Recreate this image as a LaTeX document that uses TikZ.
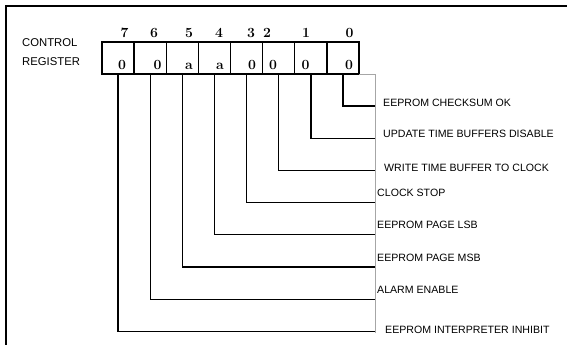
\documentclass[tikz,border=0pt]{standalone}
\usepackage{fontspec}
\newfontfamily\arialf{Liberation Sans}
\begin{document}
\begin{tikzpicture}[x=1pt,y=-1pt,
  cell/.style={draw, line width=1.3pt, minimum width=32.14pt, minimum height=32pt, inner sep=0pt, outer sep=0pt},
  digit/.style={font=\fontsize{14}{14}\selectfont\bfseries, inner sep=0pt, anchor=base},
  lbl/.style={font=\arialf\fontsize{10.6}{12}\selectfont, anchor=west, inner sep=0pt, text height=7.5pt, text depth=0pt},
  big/.style={font=\arialf\fontsize{11.3}{13}\selectfont, anchor=west, inner sep=0pt, text height=8pt, text depth=0pt},
  wire/.style={line width=1.3pt},
  bus/.style={draw=black!35, line width=0.8pt},
  frame/.style={line width=1.8pt}]
\useasboundingbox (0,0) rectangle (567,345);
% outer frame (open at right and bottom)
\coordinate (fbl) at (6,346);
\coordinate (ftl) at (6,6);
\coordinate (ftr) at (568,6);
\draw[frame] (fbl) -- (ftl) -- (ftr);
% register label
\node[big] (ctl) at (22,43) {CONTROL};
\node[big] (reg) at (22,62) {REGISTER};
% cells
\foreach \i/\x in {7/118.07,6/150.21,5/182.35,4/214.49,3/246.63,2/278.77,1/310.91,0/343.05}{
  \node[cell] (c\i) at (\x,58) {};
}
% bit numbers
\foreach \i/\x in {7/124.5,6/154,5/189,4/219,3/251,2/267,1/306,0/349.5}{
  \node[digit] (n\i) at (\x,37.5) {\i};
}
% values
\foreach \i/\x/\v in {7/122/0,6/157.5/0,5/189/a,4/220/a,3/252/0,2/273/0,1/305.5/0,0/349/0}{
  \node[digit] (v\i) at (\x,69.2) {\v};
}
% gray bus
\coordinate (btop) at (375.5,74);
\coordinate (bbot) at (375.5,332.5);
\draw[bus] (c0.south east) -- (btop) -- (bbot);
% wires
\foreach \i/\y in {0/106,1/138.3,2/170.5,3/202.7,4/234.8,5/267,6/299.2,7/331.5}{
  \coordinate (b\i) at (375,\y);
  \draw[wire] (c\i.south) |- (b\i);
}
% labels
\node[lbl] (l0) at (383,103) {EEPROM CHECKSUM OK};
\node[lbl] (l1) at (383,134) {UPDATE TIME BUFFERS DISABLE};
\node[lbl] (l2) at (384,167.5) {WRITE TIME BUFFER TO CLOCK};
\node[lbl] (l3) at (377,193) {CLOCK STOP};
\node[lbl] (l4) at (377,225) {EEPROM PAGE LSB};
\node[lbl] (l5) at (377,257.5) {EEPROM PAGE MSB};
\node[lbl] (l6) at (377,289.5) {ALARM ENABLE};
\node[lbl] (l7) at (385,330) {EEPROM INTERPRETER INHIBIT};
\end{tikzpicture}
\end{document}
